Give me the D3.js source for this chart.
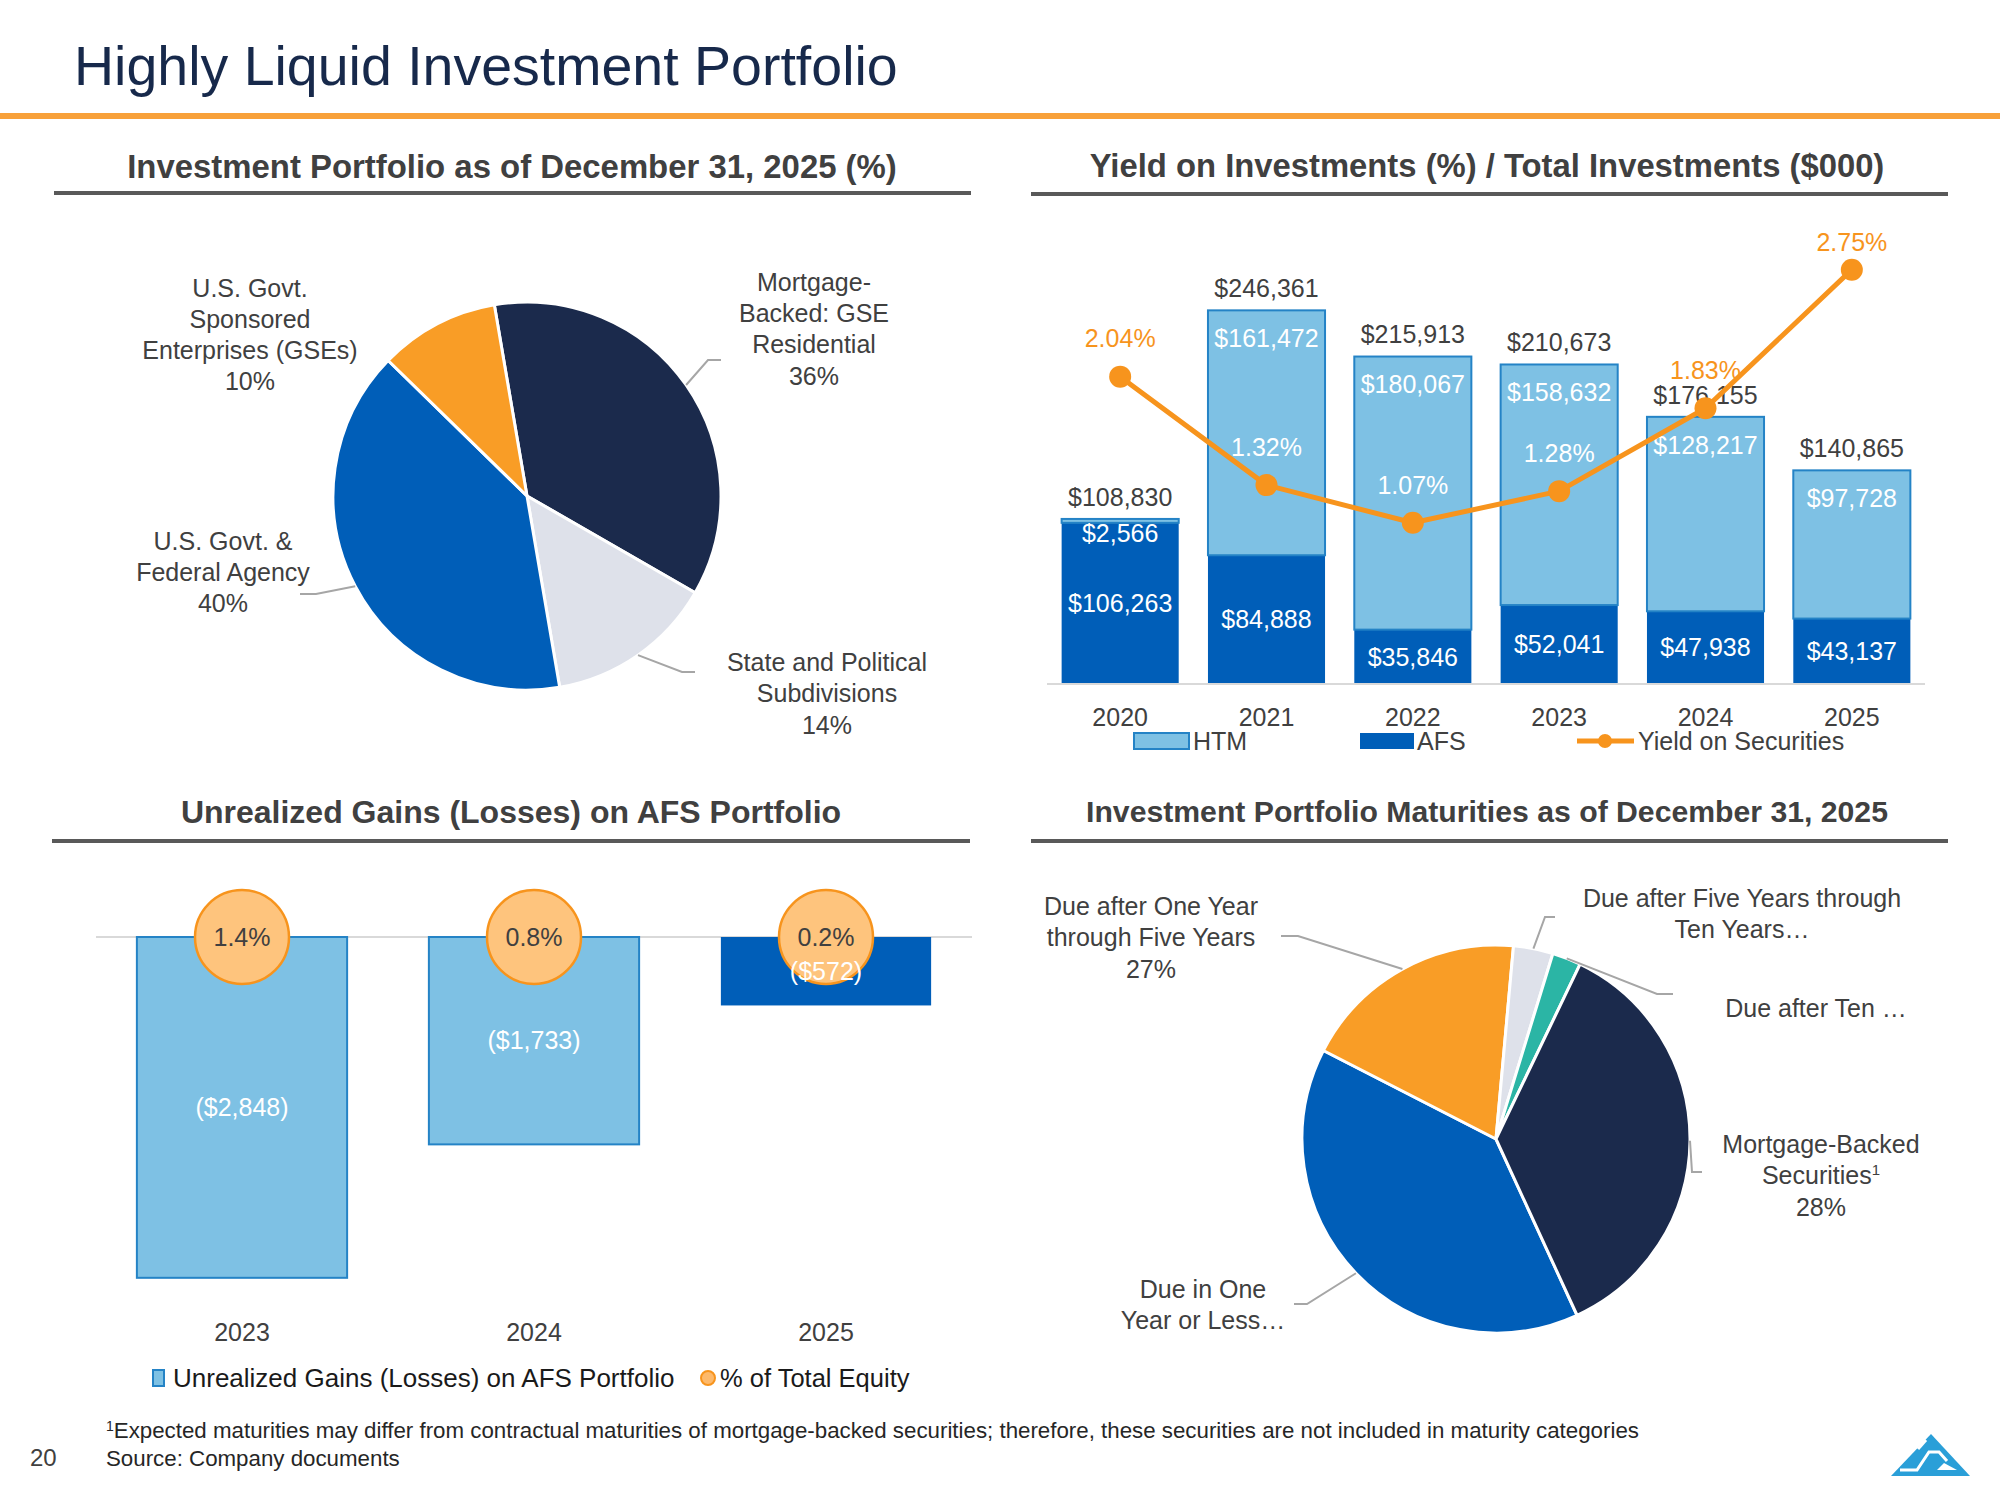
<!DOCTYPE html>
<html>
<head>
<meta charset="utf-8">
<script src="https://cdn.jsdelivr.net/npm/d3@7"></script>
<style>
  body { margin: 0; background: #fff; }
  svg { display: block; font-family: "Liberation Sans", Arial, sans-serif; }
</style>
</head>
<body>
<svg id="slide" width="2000" height="1500"></svg>
<script>
// ---- data ----
const portfolioNames = ["Mortgage-Backed: GSE Residential", "State and Political Subdivisions", "U.S. Govt. & Federal Agency", "U.S. Govt. Sponsored Enterprises (GSEs)"];
const portfolioPct = [36, 14, 40, 10];

const years = ["2020", "2021", "2022", "2023", "2024", "2025"];
const htmValues = [2566, 161472, 180067, 158632, 128217, 97728];
const afsValues = [106263, 84888, 35846, 52041, 47938, 43137];
const totalValues = [108830, 246361, 215913, 210673, 176155, 140865];
const yieldPct = [2.04, 1.32, 1.07, 1.28, 1.83, 2.75];

const unrealYears = ["2023", "2024", "2025"];
const unrealValues = [-2848, -1733, -572];
const equityPct = [1.4, 0.8, 0.2];

const maturityNames = ["Due in One Year or Less", "Due after One Year through Five Years", "Due after Five Years through Ten Years", "Due after Ten Years", "Mortgage-Backed Securities"];
const maturityShare = [39.4, 18.9, 3.3, 2.4, 36.0];   // as drawn in the slices
const maturityPctText = ["", "27%", "", "", "28%"];   // as printed in the labels

// ---- colours ----
const NAVY = "#1b2a4c", BLUE = "#005eb8", ORANGE = "#f99d26", LGREY = "#dee1ea", TEAL = "#2bb5a5";
const LBLUE = "#7ec1e4", LBLUE_EDGE = "#2483c6", TXT = "#404040", LEADER = "#a6a6a6";
const deg = Math.PI / 180;

const svg = d3.select("#slide");
const fmt = d3.format(",");
const money = v => v < 0 ? `($${fmt(-v)})` : `$${fmt(v)}`;

// ---- header ----
svg.append("text").attr("x", 74).attr("y", 85)
  .attr("font-size", 55.5).attr("fill", "#17294b")
  .text("Highly Liquid Investment Portfolio");
svg.append("rect").attr("x", 0).attr("y", 113).attr("width", 2000).attr("height", 6).attr("fill", "#f8a13a");

function sectionTitle(text, cx, cy, size, x0, x1, ry) {
  svg.append("text").attr("x", cx).attr("y", cy).attr("dy", "0.35em")
    .attr("text-anchor", "middle").attr("font-size", size).attr("font-weight", "bold")
    .attr("fill", TXT).text(text);
  svg.append("line").attr("x1", x0).attr("x2", x1).attr("y1", ry).attr("y2", ry)
    .attr("stroke", "#595959").attr("stroke-width", 4);
}
sectionTitle("Investment Portfolio as of December 31, 2025 (%)", 512, 166, 32.9, 54, 971, 193);
sectionTitle("Yield on Investments (%) / Total Investments ($000)", 1487, 166, 32.8, 1031, 1948, 194);
sectionTitle("Unrealized Gains (Losses) on AFS Portfolio", 511, 812, 32, 52, 970, 841);
sectionTitle("Investment Portfolio Maturities as of December 31, 2025", 1487, 811, 30.2, 1031, 1948, 841);

// multi-line label helper
function multiLabel(g, lines, x, y, lh, opts = {}) {
  const t = g.append("text").attr("text-anchor", "middle").attr("font-size", opts.size || 25)
    .attr("fill", opts.fill || TXT);
  lines.forEach((ln, i) => {
    const ts = t.append("tspan").attr("x", x).attr("y", y + i * lh).attr("dy", "0.35em");
    if (Array.isArray(ln)) {
      ts.text(ln[0]);
      ts.append("tspan").attr("font-size", 15).attr("dy", "-0.6em").text(ln[1]);
    } else ts.text(ln);
  });
  return t;
}
function leader(g, pts) {
  g.append("path").attr("d", d3.line()(pts)).attr("fill", "none")
    .attr("stroke", LEADER).attr("stroke-width", 2);
}

// ---- pie 1: investment portfolio ----
{
  const cx = 527, cy = 496, r = 194;
  const g = svg.append("g");
  const pg = g.append("g").attr("transform", `translate(${cx},${cy})`);
  const colors = [NAVY, LGREY, BLUE, ORANGE];
  const arcs = d3.pie().sort(null).startAngle(-9.7 * deg).endAngle(350.3 * deg)(portfolioPct);
  const arc = d3.arc().innerRadius(0).outerRadius(r);
  pg.selectAll("path").data(arcs).join("path")
    .attr("d", arc).attr("fill", (d, i) => colors[i])
    .attr("stroke", "#fff").attr("stroke-width", 3).attr("stroke-linejoin", "round");

  const edge = d => {
    const a = (d.startAngle + d.endAngle) / 2;
    return [cx + r * Math.sin(a), cy - r * Math.cos(a)];
  };
  leader(g, [edge(arcs[0]), [708, 360], [721, 360]]);
  leader(g, [edge(arcs[1]), [682, 672], [695, 672]]);
  leader(g, [edge(arcs[2]), [316, 594], [300, 594]]);

  multiLabel(g, ["Mortgage-", "Backed: GSE", "Residential", portfolioPct[0] + "%"], 814, 282, 31.3);
  multiLabel(g, ["State and Political", "Subdivisions", portfolioPct[1] + "%"], 827, 662, 31.5);
  multiLabel(g, ["U.S. Govt. &", "Federal Agency", portfolioPct[2] + "%"], 223, 541, 31);
  multiLabel(g, ["U.S. Govt.", "Sponsored", "Enterprises (GSEs)", portfolioPct[3] + "%"], 250, 288, 31);
}

// ---- chart 2: yield / total investments ----
{
  const g = svg.append("g");
  const x = d3.scaleBand().domain(years).range([1047, 1925]).paddingInner(0.2).paddingOuter(0.1);
  const y = d3.scaleLinear().domain([0, 300000]).range([684, 229]);
  const y2 = d3.scaleLinear().domain([0, 3]).range([684, 232]);

  const rows = years.map((yr, i) => ({ yr, afs: afsValues[i], htm: htmValues[i], total: totalValues[i], yld: yieldPct[i] }));

  // AFS (bottom)
  g.selectAll("rect.afs").data(rows).join("rect").attr("class", "afs")
    .attr("x", d => x(d.yr)).attr("width", x.bandwidth())
    .attr("y", d => y(d.afs)).attr("height", d => y(0) - y(d.afs))
    .attr("fill", BLUE);
  // HTM (stacked on top)
  g.selectAll("rect.htm").data(rows).join("rect").attr("class", "htm")
    .attr("x", d => x(d.yr)).attr("width", x.bandwidth())
    .attr("y", d => y(d.afs + d.htm)).attr("height", d => y(d.afs) - y(d.afs + d.htm))
    .attr("fill", LBLUE).attr("stroke", LBLUE_EDGE).attr("stroke-width", 2);

  // axis baseline + year labels
  g.append("line").attr("x1", 1047).attr("x2", 1925).attr("y1", y(0)).attr("y2", y(0))
    .attr("stroke", "#d9d9d9").attr("stroke-width", 2);
  const ax = g.append("g").attr("transform", `translate(0,${y(0)})`)
    .call(d3.axisBottom(x).tickSize(0).tickPadding(0));
  ax.select(".domain").remove();
  ax.selectAll("text").attr("font-size", 25).attr("fill", TXT)
    .attr("font-family", "Liberation Sans, Arial, sans-serif")
    .attr("y", 33).attr("dy", "0.35em");

  const cxOf = d => x(d.yr) + x.bandwidth() / 2;
  const lbl = (sel, cls) => sel.selectAll("text." + cls);

  // total labels
  lbl(g, "tot").data(rows).join("text").attr("class", "tot")
    .attr("x", cxOf).attr("y", d => y(d.total) - 22).attr("dy", "0.35em")
    .attr("text-anchor", "middle").attr("font-size", 25).attr("fill", TXT)
    .text(d => money(d.total));
  // HTM labels
  lbl(g, "htmL").data(rows).join("text").attr("class", "htmL")
    .attr("x", cxOf)
    .attr("y", d => (y(d.afs) - y(d.afs + d.htm) < 30 ? y(d.afs + d.htm) + 14 : y(d.afs + d.htm) + 28))
    .attr("dy", "0.35em").attr("text-anchor", "middle").attr("font-size", 25).attr("fill", "#fff")
    .text(d => money(d.htm));
  // AFS labels
  lbl(g, "afsL").data(rows).join("text").attr("class", "afsL")
    .attr("x", cxOf).attr("y", d => (y(0) + y(d.afs)) / 2).attr("dy", "0.35em")
    .attr("text-anchor", "middle").attr("font-size", 25).attr("fill", "#fff")
    .text(d => money(d.afs));

  // yield line
  g.append("path").datum(rows)
    .attr("d", d3.line().x(cxOf).y(d => y2(d.yld)))
    .attr("fill", "none").attr("stroke", "#f7941d").attr("stroke-width", 5).attr("stroke-linejoin", "round");
  g.selectAll("circle.yld").data(rows).join("circle").attr("class", "yld")
    .attr("cx", cxOf).attr("cy", d => y2(d.yld)).attr("r", 11).attr("fill", "#f7941d");
  lbl(g, "yldL").data(rows).join("text").attr("class", "yldL")
    .attr("x", cxOf).attr("y", d => Math.max(y2(d.yld) - 38, 242)).attr("dy", "0.35em")
    .attr("text-anchor", "middle").attr("font-size", 25)
    .attr("fill", d => (Math.max(y2(d.yld) - 38, 242) > y(d.total) ? "#fff" : "#f7941d"))
    .text(d => d.yld.toFixed(2) + "%");

  // legend
  const ly = 741;
  g.append("rect").attr("x", 1134).attr("y", ly - 8).attr("width", 55).attr("height", 16)
    .attr("fill", LBLUE).attr("stroke", LBLUE_EDGE).attr("stroke-width", 2);
  g.append("text").attr("x", 1193).attr("y", ly).attr("dy", "0.35em").attr("font-size", 25).attr("fill", TXT).text("HTM");
  g.append("rect").attr("x", 1360).attr("y", ly - 8).attr("width", 54).attr("height", 16).attr("fill", BLUE);
  g.append("text").attr("x", 1417).attr("y", ly).attr("dy", "0.35em").attr("font-size", 25).attr("fill", TXT).text("AFS");
  g.append("line").attr("x1", 1577).attr("x2", 1634).attr("y1", ly).attr("y2", ly)
    .attr("stroke", "#f7941d").attr("stroke-width", 5);
  g.append("circle").attr("cx", 1605).attr("cy", ly).attr("r", 7).attr("fill", "#f7941d");
  g.append("text").attr("x", 1638).attr("y", ly).attr("dy", "0.35em").attr("font-size", 25).attr("fill", TXT).text("Yield on Securities");
}

// ---- chart 3: unrealized gains (losses) ----
{
  const g = svg.append("g");
  const x = d3.scaleBand().domain(unrealYears).range([96, 972]).paddingInner(0.28).paddingOuter(0.14);
  const y = d3.scaleLinear().domain([-3000, 0]).range([1296, 937]);
  const rows = unrealYears.map((yr, i) => ({ yr, v: unrealValues[i], p: equityPct[i], last: i === unrealYears.length - 1 }));
  const cxOf = d => x(d.yr) + x.bandwidth() / 2;

  g.append("line").attr("x1", 96).attr("x2", 972).attr("y1", y(0)).attr("y2", y(0))
    .attr("stroke", "#d9d9d9").attr("stroke-width", 2);
  g.selectAll("rect.bar").data(rows).join("rect").attr("class", "bar")
    .attr("x", d => x(d.yr)).attr("width", x.bandwidth())
    .attr("y", y(0)).attr("height", d => y(d.v) - y(0))
    .attr("fill", d => d.last ? BLUE : LBLUE)
    .attr("stroke", d => d.last ? "none" : LBLUE_EDGE).attr("stroke-width", 2);
  g.selectAll("circle.pct").data(rows).join("circle").attr("class", "pct")
    .attr("cx", cxOf).attr("cy", y(0)).attr("r", 47)
    .attr("fill", "#fec47d").attr("stroke", "#f7941d").attr("stroke-width", 2.5);
  g.selectAll("text.val").data(rows).join("text").attr("class", "val")
    .attr("x", cxOf).attr("y", d => (y(0) + y(d.v)) / 2).attr("dy", "0.35em")
    .attr("text-anchor", "middle").attr("font-size", 25).attr("fill", "#fff")
    .text(d => money(d.v));
  g.selectAll("text.pctL").data(rows).join("text").attr("class", "pctL")
    .attr("x", cxOf).attr("y", y(0)).attr("dy", "0.35em")
    .attr("text-anchor", "middle").attr("font-size", 25).attr("fill", TXT)
    .text(d => d.p.toFixed(1) + "%");

  const ax = g.append("g").attr("transform", "translate(0,1332)")
    .call(d3.axisBottom(x).tickSize(0).tickPadding(0));
  ax.select(".domain").remove();
  ax.selectAll("text").attr("font-size", 25).attr("fill", TXT)
    .attr("font-family", "Liberation Sans, Arial, sans-serif").attr("y", 0).attr("dy", "0.35em");

  // legend
  const ly = 1378;
  g.append("rect").attr("x", 153).attr("y", ly - 8).attr("width", 11).attr("height", 16)
    .attr("fill", LBLUE).attr("stroke", LBLUE_EDGE).attr("stroke-width", 2);
  g.append("text").attr("x", 173).attr("y", ly).attr("dy", "0.35em").attr("font-size", 26).attr("fill", "#1a1a1a")
    .text("Unrealized Gains (Losses) on AFS Portfolio");
  g.append("circle").attr("cx", 708).attr("cy", ly).attr("r", 7).attr("fill", "#fdb96b").attr("stroke", "#f7941d").attr("stroke-width", 2);
  g.append("text").attr("x", 720).attr("y", ly).attr("dy", "0.35em").attr("font-size", 25.5).attr("fill", "#1a1a1a")
    .text("% of Total Equity");
}

// ---- pie 2: maturities ----
{
  const cx = 1496, cy = 1139, r = 194;
  const g = svg.append("g");
  const pg = g.append("g").attr("transform", `translate(${cx},${cy})`);
  const colors = [BLUE, ORANGE, LGREY, TEAL, NAVY];
  const arcs = d3.pie().sort(null).startAngle(155.3 * deg).endAngle(515.3 * deg)(maturityShare);
  const arc = d3.arc().innerRadius(0).outerRadius(r);
  pg.selectAll("path").data(arcs).join("path")
    .attr("d", arc).attr("fill", (d, i) => colors[i])
    .attr("stroke", "#fff").attr("stroke-width", 3).attr("stroke-linejoin", "round");

  const edge = d => {
    const a = (d.startAngle + d.endAngle) / 2;
    return [cx + r * Math.sin(a), cy - r * Math.cos(a)];
  };
  leader(g, [edge(arcs[1]), [1298, 936], [1281, 936]]);
  leader(g, [edge(arcs[2]), [1545, 917], [1555, 917]]);
  leader(g, [edge(arcs[3]), [1657, 994], [1673, 994]]);
  leader(g, [edge(arcs[4]), [1692, 1172], [1702, 1172]]);
  leader(g, [edge(arcs[0]), [1307, 1304], [1294, 1304]]);

  multiLabel(g, ["Due after One Year", "through Five Years", maturityPctText[1]], 1151, 906, 31.5);
  multiLabel(g, ["Due after Five Years through", "Ten Years\u2026"], 1742, 898, 31);
  multiLabel(g, ["Due after Ten \u2026"], 1816, 1008, 31);
  multiLabel(g, ["Mortgage-Backed", ["Securities", "1"], maturityPctText[4]], 1821, 1144, 31.5);
  multiLabel(g, ["Due in One", "Year or Less\u2026"], 1203, 1289, 31.5);
}

// ---- footer ----
{
  const f = svg.append("g").attr("fill", "#262626");
  const t = f.append("text").attr("x", 106).attr("y", 1438).attr("font-size", 22.3);
  t.append("tspan").attr("font-size", 14).attr("dy", "-0.5em").text("1");
  t.append("tspan").attr("dy", "0.31em")
    .text("Expected maturities may differ from contractual maturities of mortgage-backed securities; therefore, these securities are not included in maturity categories");
  f.append("text").attr("x", 106).attr("y", 1466).attr("font-size", 22.3).text("Source: Company documents");
  f.append("text").attr("x", 30).attr("y", 1466).attr("font-size", 24).attr("fill", "#404040").text("20");

  // logo
  const lg = svg.append("g");
  lg.append("path").attr("d", "M1931,1434 L1970,1476 L1891,1476 Z").attr("fill", "#2a9fd8");
  lg.append("path").attr("d", "M1900,1470 L1917,1470 L1929,1452 L1939,1452 L1947,1461")
    .attr("fill", "none").attr("stroke", "#fff").attr("stroke-width", 3);
  lg.append("path").attr("d", "M1918,1449 L1926,1440")
    .attr("fill", "none").attr("stroke", "#fff").attr("stroke-width", 3);
  lg.append("path").attr("d", "M1937,1470 L1944,1463 L1957,1470 Z").attr("fill", "#fff");
}
</script>
</body>
</html>
